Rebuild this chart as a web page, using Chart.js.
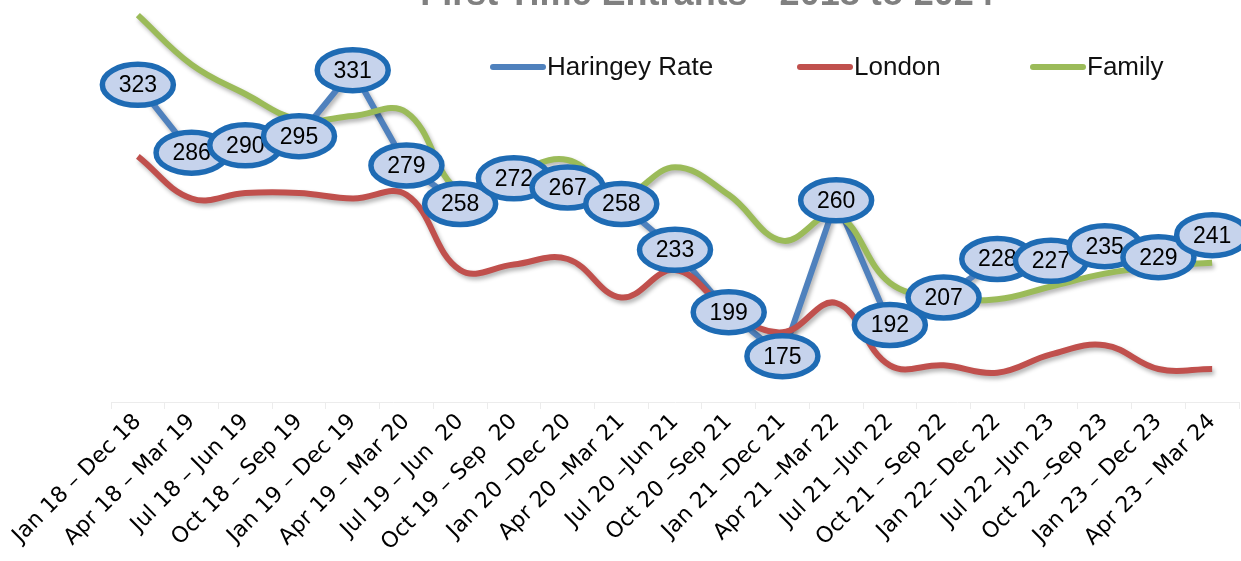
<!DOCTYPE html>
<html>
<head>
<meta charset="utf-8">
<script src="https://cdn.jsdelivr.net/npm/chart.js@4.4.1/dist/chart.umd.min.js"></script>
<style>
  html, body { margin: 0; padding: 0; background: #fff; }
  #wrap { width: 1241px; height: 561px; position: relative; }
</style>
</head>
<body>
<div id="wrap"><canvas id="chart"></canvas></div>
<script>
// Chart data
const chartTitle = 'First Time Entrants - 2018 to 2024';
const periods = [
  'Jan 18 – Dec 18', 'Apr 18 – Mar 19', 'Jul 18 – Jun 19', 'Oct 18 – Sep 19',
  'Jan 19 – Dec 19', 'Apr 19 – Mar 20', 'Jul 19 – Jun  20', 'Oct 19 – Sep  20',
  'Jan 20 –Dec 20', 'Apr 20 –Mar 21', 'Jul 20 –Jun 21', 'Oct 20 –Sep 21',
  'Jan 21 –Dec 21', 'Apr 21 –Mar 22', 'Jul 21 –Jun 22', 'Oct 21 – Sep 22',
  'Jan 22– Dec 22', 'Jul 22 –Jun 23', 'Oct 22 –Sep 23', 'Jan 23 – Dec 23',
  'Apr 23 – Mar 24'
];
const haringeyRate = [323, 286, 290, 295, 331, 279, 258, 272, 267, 258, 233, 199, 175, 260, 192, 207, 228, 227, 235, 229, 241];
const london = [284, 261, 264, 264, 261, 263, 222, 225, 228, 207, 222, 200, 188, 204, 170, 170, 166, 176, 181, 168, 168];
const family = [361, 334, 318, 304, 306, 308, 265, 275, 282, 263, 278, 263, 238, 252, 215, 207, 206, 213, 220, 224, 226];
const seriesNames = ['Haringey Rate', 'London', 'Family'];

const blue = '#4f81bd';
const red = '#c0504d';
const green = '#9bbb59';

// Shadows under the lines, bubble labels, legend and the clipped title
const decorPlugin = {
  id: 'decor',
  beforeDatasetsDraw(chart) {
    const ctx = chart.ctx;
    ctx.save();
    ctx.shadowColor = 'rgba(0,0,0,0.3)';
    ctx.shadowBlur = 4;
    ctx.shadowOffsetX = 2;
    ctx.shadowOffsetY = 3;
  },
  afterDatasetsDraw(chart) {
    const ctx = chart.ctx;
    ctx.restore();

    // bubble labels on the Haringey points
    const meta = chart.getDatasetMeta(0);
    ctx.save();
    ctx.font = '23px "Liberation Sans", Arial, sans-serif';
    ctx.textAlign = 'center';
    ctx.textBaseline = 'middle';
    meta.data.forEach((pt, i) => {
      ctx.beginPath();
      ctx.ellipse(pt.x, pt.y, 35.5, 20.5, 0, 0, Math.PI * 2);
      ctx.fillStyle = '#c6d3ec';
      ctx.fill();
      ctx.lineWidth = 5.5;
      ctx.strokeStyle = '#1e6bb4';
      ctx.stroke();
      ctx.fillStyle = '#000';
      ctx.fillText(String(haringeyRate[i]), pt.x, pt.y + 1);
    });
    ctx.restore();

    // legend
    const legendX = [490, 797, 1030];
    const ly = 67;
    ctx.save();
    ctx.font = '26px "Liberation Sans", Arial, sans-serif';
    ctx.textBaseline = 'middle';
    ctx.lineCap = 'round';
    chart.data.datasets.forEach((ds, i) => {
      const x = legendX[i];
      ctx.beginPath();
      ctx.moveTo(x + 3, ly);
      ctx.lineTo(x + 53, ly);
      ctx.lineWidth = 6;
      ctx.strokeStyle = ds.borderColor;
      ctx.stroke();
      ctx.fillStyle = '#111';
      ctx.fillText(ds.label, x + 57, ly + 1);
    });
    ctx.restore();

    // title, mostly above the top edge
    ctx.save();
    ctx.font = 'bold 36px "Liberation Sans", Arial, sans-serif';
    ctx.textAlign = 'center';
    ctx.textBaseline = 'alphabetic';
    ctx.fillStyle = '#808080';
    ctx.fillText(chartTitle, 707, 5);
    ctx.restore();
  }
};

new Chart(document.getElementById('chart'), {
  type: 'line',
  data: {
    labels: periods,
    datasets: [
      {
        label: seriesNames[0],
        data: haringeyRate,
        borderColor: blue,
        borderWidth: 6,
        tension: 0,
        pointRadius: 0,
        order: 3,
        clip: false
      },
      {
        label: seriesNames[1],
        data: london,
        borderColor: red,
        borderWidth: 6,
        tension: 0.4,
        pointRadius: 0,
        order: 2,
        clip: false
      },
      {
        label: seriesNames[2],
        data: family,
        borderColor: green,
        borderWidth: 6,
        tension: 0.4,
        pointRadius: 0,
        order: 1,
        clip: false
      }
    ]
  },
  options: {
    responsive: true,
    maintainAspectRatio: false,
    animation: false,
    layout: {
      padding: { top: 6, left: 111, right: 2, bottom: 0 }
    },
    plugins: {
      legend: { display: false },
      title: { display: false },
      tooltip: { enabled: false }
    },
    scales: {
      x: {
        offset: true,
        grid: {
          offset: true,
          drawOnChartArea: false,
          tickLength: 7,
          color: '#ececec'
        },
        border: { color: '#ececec' },
        ticks: {
          autoSkip: false,
          maxRotation: 45,
          minRotation: 45,
          padding: 0,
          color: '#000',
          font: { family: '"DejaVu Sans", sans-serif', size: 22 }
        },
        afterFit(scale) {
          scale.height = 159;
        }
      },
      y: {
        display: false,
        min: 150,
        max: 366
      }
    }
  },
  plugins: [decorPlugin]
});
</script>
</body>
</html>
